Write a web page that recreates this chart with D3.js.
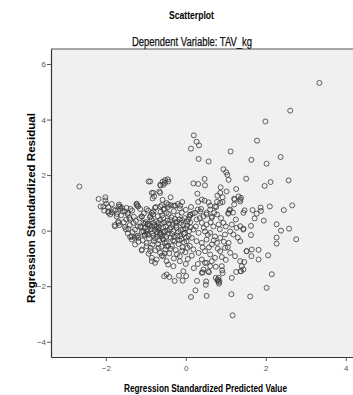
<!DOCTYPE html>
<html><head><meta charset="utf-8">
<script src="https://cdn.jsdelivr.net/npm/d3@7"></script>
<style>html,body{margin:0;background:#fff;overflow:hidden;} svg{display:block;}</style>
</head><body>
<svg id="c" width="353" height="395"></svg>
<script>
const titleText = "Scatterplot";
const subtitleText = "Dependent Variable: TAV_kg";
const xTitle = "Regression Standardized Predicted Value";
const yTitle = "Regression Standardized Residual";
const xTicks = [-2, 0, 2, 4];
const yTicks = [-4, -2, 0, 2, 4, 6];

// predicted values (x) and residuals (y)
const outlierPts = [
[3.34,5.32],[2.61,4.32],[1.99,3.93],[1.78,3.24],[1.64,2.55],[2.02,2.41],[2.37,2.65],[1.51,1.87],[1.97,1.61],[2.12,1.75],
[2.57,1.81],[1.38,1.18],[1.47,0.73],[1.44,0.64],[1.67,0.74],[1.77,0.61],[1.87,0.83],[1.88,0.71],[1.72,0.44],[2.1,0.87],
[2.45,0.74],[2.66,0.91],[1.95,0.36],[1.63,0.17],[1.44,0.07],[1.36,0.16],[2.27,0.23],[2.38,0.0],[2.58,0.07],[1.63,-0.16],
[2.27,-0.25],[2.27,-0.47],[2.76,-0.31],[1.52,-0.74],[1.65,-0.68],[1.64,-0.92],[1.82,-0.69],[1.82,-1.04],[2.06,-0.89],[1.46,-1.13],
[1.4,-1.28],[1.38,-1.46],[2.15,-1.57],[2.02,-2.06],[1.61,-2.37],[-2.66,1.59]
];
const lowerPts = [
[-0.54,-1.64],[-0.48,-1.58],[-0.41,-1.67],[-0.28,-1.81],[-0.17,-1.62],[-0.08,-1.8],[0.01,-1.64],[0.13,-2.39],[0.24,-2.15],[0.28,-1.81],
[0.42,-1.5],[0.51,-1.83],[0.5,-1.95],[0.52,-2.35],[0.58,-1.5],[0.75,-1.7],[0.8,-1.77],[0.83,-1.91],[0.82,-1.85],[0.92,-1.53],
[0.91,-1.43],[1.15,-1.7],[1.14,-2.29],[1.17,-3.05],[1.26,-1.49],[1.37,-1.46],[0.61,-1.28],[0.56,-1.46],[0.48,-1.16],[0.44,-1.4],
[0.4,-1.52],[0.9,-1.28],[0.79,-1.79],[-0.85,-1.1],[-0.31,-1.28],[-0.06,-1.46],[0.3,-1.2],[0.65,-1.1],[0.75,-1.3],[1.0,-1.05],
[0.9,-0.95],[0.2,-1.35]
];
const upperPts = [
[0.2,3.43],[0.27,3.2],[0.33,3.07],[0.13,2.95],[0.32,2.58],[0.57,2.49],[1.12,2.85],[0.94,2.21],[1.01,2.1],[1.04,2.01],
[1.07,1.83],[-0.93,1.77],[-0.58,1.76],[-0.52,1.82],[-0.45,1.85],[-0.63,1.63],[0.19,1.7],[0.31,1.68],[0.47,1.86],[0.48,1.63],
[0.87,1.56],[1.26,1.5],[0.86,1.36],[0.79,1.26],[1.02,1.41],[-0.81,1.36],[-0.79,1.23],[-0.83,1.16],[-0.66,1.41],[-0.38,1.2],
[0.29,1.33],[0.4,1.12],[0.47,1.08],[0.57,1.02],[0.61,0.9],[0.31,1.03],[0.92,1.2],[0.92,1.03],[1.21,1.15],[1.22,1.12],
[1.32,1.23],[1.36,1.12],[1.09,0.73],[1.06,0.61],[0.78,1.04],[0.76,0.85],[-0.58,1.11],[-0.48,0.99],[-0.37,0.91],[-0.27,0.9],
[-0.2,0.96],[-0.14,0.9],[-0.09,1.03],[0.11,0.56],[0.17,0.61],[0.38,0.78],[0.3,0.76],[0.52,0.58],[0.65,0.51],[0.71,0.64]
];
const leftPts = [
[-2.18,1.14],[-2.01,1.2],[-2.01,1.09],[-2.13,0.87],[-2.04,0.72],[-1.94,0.85],[-1.85,0.96],[-1.93,0.64],[-1.89,0.58],[-1.77,0.72],
[-1.68,0.87],[-1.64,0.78],[-1.67,0.94],[-1.78,0.2],[-1.66,0.2],[-1.68,0.28],[-1.46,0.6],[-1.41,0.46],[-1.49,0.4],[-1.21,0.9],
[-1.23,0.97],[-1.34,0.72],[-1.14,0.78],[-1.1,0.51],[-0.98,0.78],[-1.52,0.13],[-1.44,0.06],[-1.39,-0.23],[-1.35,-0.32],[-1.28,-0.26],
[-1.2,-0.18],[-1.27,-0.5],[-1.14,0.15],[-1.06,-0.03],[-1.02,-0.14],[-1.1,-0.71],[-0.98,-0.56],[-0.93,-0.83],
[-2.06,0.87],[-1.99,0.97],[-1.94,0.69],[-1.85,0.66],[-1.81,0.76],[-1.73,0.51],[-1.69,0.33],[-1.77,0.15],[-1.64,0.87],[-1.6,0.82],
[-1.52,0.69],[-1.44,0.64],[-1.39,0.4],[-1.31,0.28],[-1.27,0.04],[-1.35,-0.21],[-1.23,-0.21],[-1.19,-0.26],[-1.23,0.94],[-1.19,0.87],
[-1.1,0.51],[-1.06,0.28],[-1.02,0.1],[-0.98,-0.03],[-0.94,0.22],[-0.89,0.51],[-0.85,0.64],[-0.81,0.69],[-0.77,0.82],[-1.1,-0.68],
[-0.89,-0.74],[-0.85,-0.98],[-0.77,-1.16],[-0.73,-1.04],[-0.64,-0.8],[-0.85,1.36],[-0.64,1.36],[-0.64,1.65],[-0.56,1.65],
[-0.52,1.72],[-0.44,1.77],[-0.89,1.77],[-0.81,0.28],[-0.73,0.15],[-0.69,0.04],[-0.64,-0.08],[-0.6,-0.21],[-0.56,-0.32],[-0.52,-0.44],
[-0.48,-0.56],[-0.56,-0.92],[-0.48,-1.1],[-0.44,-1.22],[-0.64,0.87],[-0.56,0.76],[-0.48,0.64],[-0.44,0.94],
[-1.55,0.3],[-1.5,0.05],[-1.45,-0.1],[-1.4,0.2],[-1.33,-0.05],[-1.3,0.5],[-1.25,0.35],[-1.2,0.15],[-1.18,-0.4],[-1.62,0.55],
[-1.72,0.6],[-1.58,0.7],[-1.48,0.82],[-1.38,0.78]
];
const midPts = [
[1.07,0.64],[1.11,0.76],[1.21,0.94],[1.36,1.05],[0.86,1.0],[0.73,0.87],[0.61,0.76],[0.94,0.28],[1.15,0.22],[1.27,0.1],
[1.44,0.04],[1.11,-0.03],[0.98,-0.14],[0.86,-0.26],[1.19,-0.14],[1.36,-0.38],[1.52,-0.74],[1.07,-0.44],[0.98,-0.62],[0.86,-0.74],
[1.11,-0.8],[1.23,-0.92],[1.36,-1.1],[1.44,-1.4],[0.82,-1.7],[0.84,-1.82],
[0.11,0.58],[0.23,0.64],[0.36,0.69],[0.44,0.51],[0.52,0.64],[0.65,0.46],[0.78,0.58],[0.27,0.4],[0.4,0.28],[0.52,0.22],
[0.69,0.15],[0.82,0.22],[0.19,0.04],[0.32,-0.08],[0.48,-0.03],[0.61,-0.08],[0.73,-0.21],[0.15,-0.26],[0.27,-0.38],[0.4,-0.44],
[0.52,-0.32],[0.65,-0.5],[0.78,-0.44],[0.19,-0.68],[0.32,-0.8],[0.48,-0.74],[0.61,-0.86],[0.73,-0.98],[0.4,-1.04],[0.52,-1.16],
[0.25,0.15],[0.35,0.45],[0.45,0.1],[0.55,-0.15],[0.62,0.3],[0.7,-0.35],[0.85,0.05],[0.88,0.45],[0.95,-0.4],[1.0,0.15],
[1.05,-0.6],[1.25,0.4],[1.3,-0.25],[1.18,0.65],[0.58,-0.6],[0.42,-0.6],[0.8,-0.65]
];
const corePts = [
[-1.15,0.45],[-1.12,0.12],[-1.08,-0.35],[-1.05,0.62],[-1.03,-0.18],[-1.0,0.31],[-0.98,-0.45],[-0.96,0.05],[-0.94,0.72],[-0.92,-0.28],
[-0.9,0.18],[-0.88,-0.62],[-0.86,0.41],[-0.84,-0.09],[-0.82,0.58],[-0.8,-0.38],[-0.78,0.02],[-0.76,-0.71],[-0.74,0.33],[-0.72,-0.22],
[-0.7,0.52],[-0.69,-0.48],[-0.67,0.11],[-0.65,-0.15],[-0.63,0.68],[-0.61,-0.58],[-0.6,0.25],[-0.58,-0.3],[-0.56,0.45],[-0.55,-0.05],
[-0.53,0.78],[-0.51,-0.68],[-0.5,0.15],[-0.48,-0.42],[-0.46,0.36],[-0.45,-0.12],[-0.43,0.6],[-0.41,-0.82],[-0.4,0.05],[-0.38,-0.25],
[-0.36,0.48],[-0.35,-0.55],[-0.33,0.22],[-0.31,-0.02],[-0.3,0.7],[-0.28,-0.38],[-0.26,0.3],[-0.25,-0.7],[-0.23,0.1],[-0.21,-0.18],
[-0.2,0.55],[-0.18,-0.48],[-0.16,0.4],[-0.15,-0.92],[-0.13,0.02],[-0.11,-0.3],[-0.1,0.65],[-0.08,-0.6],[-0.06,0.2],[-0.05,-0.12],
[-0.03,0.45],[-0.01,-0.78],[0.0,0.08],[0.02,-0.38],[0.04,0.32],[0.05,-1.02],[0.07,-0.2],[0.09,0.5],[0.1,-0.55],[0.12,0.12],
[-0.95,0.25],[-0.87,0.05],[-0.79,0.2],[-0.71,-0.05],[-0.64,0.38],[-0.57,0.12],[-0.49,-0.22],[-0.42,0.25],[-0.34,-0.12],[-0.27,0.42],
[-0.19,-0.05],[-0.12,0.28],[-0.04,-0.42],[0.03,0.18],[-0.97,-0.12],[-0.89,0.48],[-0.81,-0.18],[-0.73,0.08],[-0.66,-0.35],[-0.59,0.55],
[-0.52,-0.02],[-0.44,-0.55],[-0.37,0.12],[-0.29,-0.22],[-0.22,0.32],[-0.14,-0.2],[-0.07,0.05],[0.01,-0.25],[0.08,-0.02],[0.11,0.3],
[-1.1,-0.05],[-1.02,0.25],[-0.93,-0.15],[-0.85,0.15],[-0.77,-0.28],[-0.68,0.28],[-0.62,-0.12],[-0.54,0.3],[-0.47,0.0],[-0.39,0.38],
[-0.32,-0.35],[-0.24,0.18],[-0.17,-0.35],[-0.09,0.38],[-0.02,-0.08],[0.06,0.4],[-0.83,-0.5],[-0.68,-0.62],[-0.53,-0.82],[-0.38,-0.65],
[-0.22,-0.85],[-0.09,-0.72],[0.04,-0.62],[-0.6,-0.9],[-0.3,-1.0],[-0.15,-1.1],[0.0,-1.2],[0.15,-0.9],[-0.75,0.85],[-0.6,0.92],
[-0.45,0.85],[-0.3,0.9],[-0.15,0.8],[0.0,0.75],[0.13,0.85]
];

const allPts = [].concat(outlierPts, lowerPts, upperPts, leftPts, midPts, corePts);

const svg = d3.select("#c");
const x = d3.scaleLinear().domain([-3.37, 4.33]).range([51, 359]);
const y = d3.scaleLinear().domain([-4.55, 6.54]).range([357, 49]);

svg.append("rect").attr("x", 51).attr("y", 49).attr("width", 302).attr("height", 308).attr("fill", "#f0f0f0");
svg.append("line").attr("x1", 51).attr("x2", 353).attr("y1", 49).attr("y2", 49).attr("stroke", "#555").attr("stroke-width", 1);

const xAxis = svg.append("g").attr("transform", "translate(0,357)")
  .call(d3.axisBottom(x).tickValues(xTicks).tickSize(4).tickSizeOuter(0).tickFormat(d3.format("d")));
const yAxis = svg.append("g").attr("transform", "translate(51,0)")
  .call(d3.axisLeft(y).tickValues(yTicks).tickSize(4).tickSizeOuter(0).tickFormat(d3.format("d")));
[xAxis, yAxis].forEach(g => {
  g.select(".domain").attr("stroke", "#333").attr("stroke-width", 1.2);
  g.selectAll(".tick line").attr("stroke", "#555");
  g.selectAll(".tick text").attr("fill", "#555").attr("font-family", "'Liberation Sans Narrow', 'Liberation Sans', Arial, sans-serif").attr("font-size", 8);
});
xAxis.selectAll(".tick text").attr("dy", "0.9em");
yAxis.selectAll(".tick text").attr("x", -5);

svg.append("g").selectAll("circle").data(allPts).join("circle")
  .attr("cx", d => x(d[0])).attr("cy", d => y(d[1])).attr("r", 2.5)
  .attr("fill", "none").attr("stroke", "#3a3a3a").attr("stroke-width", 0.8);

const ff = "'Liberation Sans', Arial, sans-serif";
svg.append("text").attr("x", 191.5).attr("y", 19).attr("text-anchor", "middle")
  .attr("font-family", ff).attr("font-weight", "bold").attr("font-size", 11.5)
  .attr("textLength", 45).attr("lengthAdjust", "spacingAndGlyphs").text(titleText);
svg.append("text").attr("x", 192).attr("y", 46).attr("text-anchor", "middle")
  .attr("font-family", ff).attr("font-size", 12).attr("fill", "#111")
  .attr("stroke", "#111").attr("stroke-width", 0.25)
  .attr("textLength", 120).attr("lengthAdjust", "spacingAndGlyphs").text(subtitleText);
svg.append("text").attr("x", 205.5).attr("y", 392).attr("text-anchor", "middle")
  .attr("font-family", ff).attr("font-weight", "bold").attr("font-size", 11.5)
  .attr("textLength", 163).attr("lengthAdjust", "spacingAndGlyphs").text(xTitle);
svg.append("text").attr("transform", "translate(35,208) rotate(-90)").attr("text-anchor", "middle")
  .attr("font-family", ff).attr("font-weight", "bold").attr("font-size", 10.5)
  .attr("textLength", 190).attr("lengthAdjust", "spacingAndGlyphs").text(yTitle);
</script>
</body></html>
